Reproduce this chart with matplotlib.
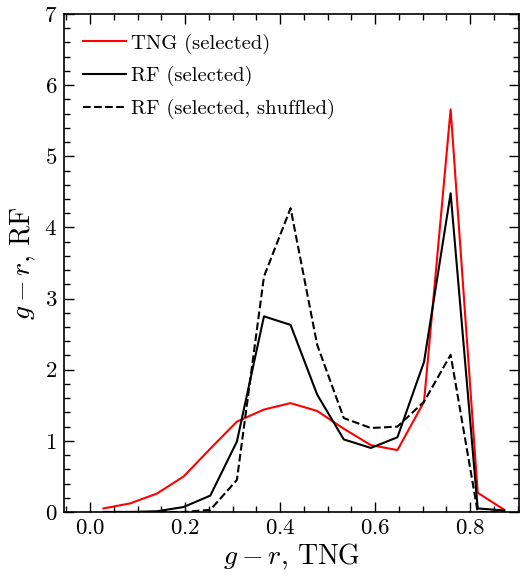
import matplotlib
matplotlib.use("Agg")
import matplotlib.pyplot as plt
from matplotlib.ticker import MultipleLocator

plt.rcParams["font.family"] = "serif"
plt.rcParams["font.serif"] = ["cmr10"]
plt.rcParams["mathtext.fontset"] = "cm"
plt.rcParams["axes.formatter.use_mathtext"] = True

# bin centres in g-r (16 bins over 0..0.9)
gr_bins = [0.028, 0.084, 0.141, 0.197, 0.253, 0.309, 0.366, 0.422,
           0.478, 0.534, 0.591, 0.647, 0.703, 0.759, 0.816, 0.872]
tng_sel = [0.05, 0.12, 0.26, 0.50, 0.89, 1.27, 1.44, 1.53,
           1.42, 1.17, 0.94, 0.87, 1.55, 5.66, 0.27, 0.03]
rf_sel = [0.0, 0.0, 0.01, 0.07, 0.23, 0.99, 2.75, 2.63,
          1.65, 1.02, 0.90, 1.05, 2.11, 4.48, 0.05, 0.02]
rf_shuf = [0.0, 0.0, 0.0, 0.0, 0.03, 0.45, 3.31, 4.27,
           2.35, 1.32, 1.18, 1.20, 1.55, 2.21, 0.0, 0.0]

fig = plt.figure(figsize=(5.23, 5.77), dpi=100)
ax = fig.add_axes([0.1224, 0.1127, 0.87, 0.863])

ax.plot(gr_bins, tng_sel, color="red", lw=1.5, label="TNG (selected)")
ax.plot(gr_bins, rf_sel, color="black", lw=1.5, label="RF (selected)")
ax.plot(gr_bins, rf_shuf, color="black", lw=1.5, ls="--",
        label="RF (selected, shuffled)")

ax.set_xlim(-0.055, 0.903)
ax.set_ylim(0, 7)
ax.xaxis.set_major_locator(MultipleLocator(0.2))
ax.xaxis.set_minor_locator(MultipleLocator(0.05))
ax.yaxis.set_major_locator(MultipleLocator(1))
ax.yaxis.set_minor_locator(MultipleLocator(0.2))
ax.tick_params(which="both", direction="in", top=True, right=True,
               labelsize=16.5)
ax.tick_params(which="major", length=7, width=1, pad=5)
ax.tick_params(which="minor", length=4, width=1)
for s in ax.spines.values():
    s.set_linewidth(1.2)

ax.set_xlabel("$g-r$, TNG", fontsize=20, labelpad=2)
ax.set_ylabel("$g-r$, RF", fontsize=20, labelpad=4)

ax.legend(loc="upper left", bbox_to_anchor=(0.01, 0.99), frameon=False,
          fontsize=14.8, handlelength=2.1, handletextpad=0.25,
          labelspacing=0.62, borderaxespad=0.3)

fig.savefig("out.png", dpi=100)
